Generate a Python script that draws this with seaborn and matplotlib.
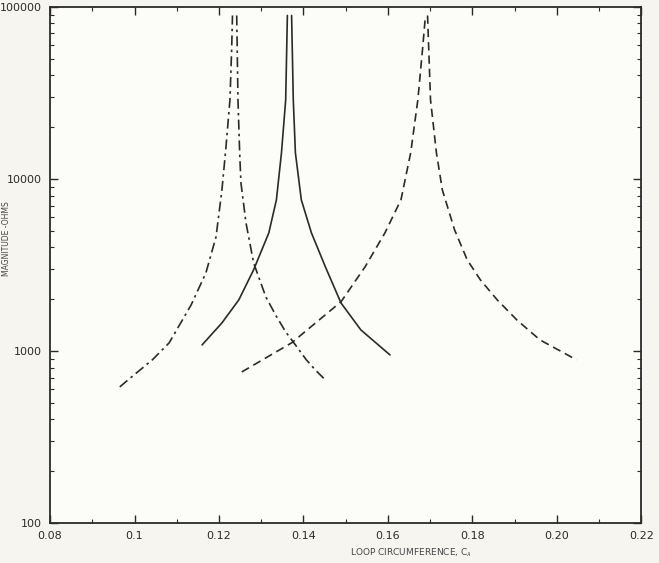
import matplotlib
matplotlib.use("Agg")
import matplotlib.pyplot as plt
import matplotlib.ticker as mticker
import numpy as np
import pandas as pd
import seaborn as sns

# ── Data (loop circumference vs impedance magnitude) ──
dashdot_x = [0.0965, 0.0993, 0.1042, 0.1082, 0.1134, 0.1169, 0.1193, 0.1207, 0.1216,
             0.1226, 0.1230, 0.1232,
             0.1242, 0.1245, 0.1249, 0.1252, 0.1264, 0.1282, 0.1311, 0.1334, 0.1358,
             0.1381, 0.1407, 0.1428, 0.1452]
dashdot_y = [618, 706, 887, 1114, 1850, 2840, 4600, 8630, 14760,
             28770, 56200, 89000,
             89000, 28770, 14160, 9480, 5550, 3250, 2060, 1620, 1290,
             1084, 887, 776, 678]

solid_x = [0.1160, 0.1207, 0.1247, 0.1282, 0.1318, 0.1336, 0.1348, 0.1358, 0.1362,
           0.1372, 0.1376, 0.1381, 0.1395, 0.1419, 0.1452, 0.1489, 0.1536, 0.1605]
solid_y = [1084, 1455, 1980, 2960, 4850, 7550, 14160, 28770, 89000,
           89000, 28770, 14160, 7550, 4850, 3080, 1900, 1325, 948]

dashed_x = [0.1254, 0.1372, 0.1489, 0.1546, 0.1593, 0.1631, 0.1654, 0.1671, 0.1682, 0.1689,
            0.1694, 0.1701, 0.1715, 0.1729, 0.1758, 0.1788, 0.1819, 0.1859, 0.1906,
            0.1960, 0.2047]
dashed_y = [755, 1114, 1930, 3080, 4850, 7550, 14160, 28770, 56200, 89000,
            89000, 28770, 14160, 8630, 5050, 3380, 2590, 1980, 1510,
            1160, 887]

x_ticks = [0.08, 0.10, 0.12, 0.14, 0.16, 0.18, 0.20, 0.22]
x_tick_labels = ["0.08", "0.1", "0.12", "0.14", "0.16", "0.18", "0.20", "0.22"]
y_ticks = [100, 1000, 10000, 100000]


def make_frame(xs, ys, name):
    # split each resonance curve into its rising and falling branch (open top)
    d = pd.DataFrame({"x": xs, "y": ys, "curve": name})
    peak = int(np.argmax(ys))
    d["branch"] = np.where(np.arange(len(d)) <= peak, "up", "down")
    return d


df = pd.concat([
    make_frame(dashdot_x, dashdot_y, "a"),
    make_frame(solid_x, solid_y, "b"),
    make_frame(dashed_x, dashed_y, "c"),
], ignore_index=True)

# ── Plot ──────────────────────────────────────────────────────────────────────
sns.set_style("ticks")
plt.rcParams["font.family"] = ["DejaVu Sans"]

PAPER = "#f6f5f0"
INK = "#2a2a2a"

fig = plt.figure(figsize=(6.59, 5.63), dpi=100)
fig.patch.set_facecolor(PAPER)
ax = fig.add_axes([0.076, 0.071, 0.897, 0.917])
ax.set_facecolor("#fcfcf9")

styles = {"a": (0, (6, 2.5, 1.5, 2.5)), "b": "-", "c": (0, (5, 3))}
for (key, _), sub in df.groupby(["curve", "branch"]):
    sns.lineplot(data=sub, x="x", y="y", sort=False, estimator=None,
                 color=INK, linewidth=1.2, ax=ax)
    ax.lines[-1].set_linestyle(styles[key])

ax.set_yscale("log")
ax.set_xlim(0.08, 0.22)
ax.set_ylim(100, 100000)

ax.set_xticks(x_ticks)
ax.set_xticklabels(x_tick_labels)
ax.xaxis.set_minor_locator(mticker.MultipleLocator(0.01))
ax.set_yticks(y_ticks)
ax.yaxis.set_major_formatter(mticker.FuncFormatter(lambda v, p: f"{int(v)}"))
ax.yaxis.set_minor_locator(mticker.LogLocator(base=10, subs=np.arange(2, 10)))
ax.yaxis.set_minor_formatter(mticker.NullFormatter())

ax.tick_params(which="both", direction="in", top=True, right=True,
               colors=INK, labelsize=8, pad=6)
ax.tick_params(which="major", length=6, width=1)
ax.tick_params(which="minor", length=3, width=0.8)
for side in ax.spines.values():
    side.set_color(INK)
    side.set_linewidth(1.3)

ax.set_xlabel("LOOP CIRCUMFERENCE, C$_\\lambda$", fontsize=6.5, color="#444444")
ax.xaxis.set_label_coords(0.61, -0.045)
ax.set_ylabel("MAGNITUDE -OHMS", fontsize=5.5, color="#444444")
ax.yaxis.set_label_coords(-0.066, 0.55)

plt.savefig("out.png", dpi=100, facecolor=fig.get_facecolor())
plt.close()
